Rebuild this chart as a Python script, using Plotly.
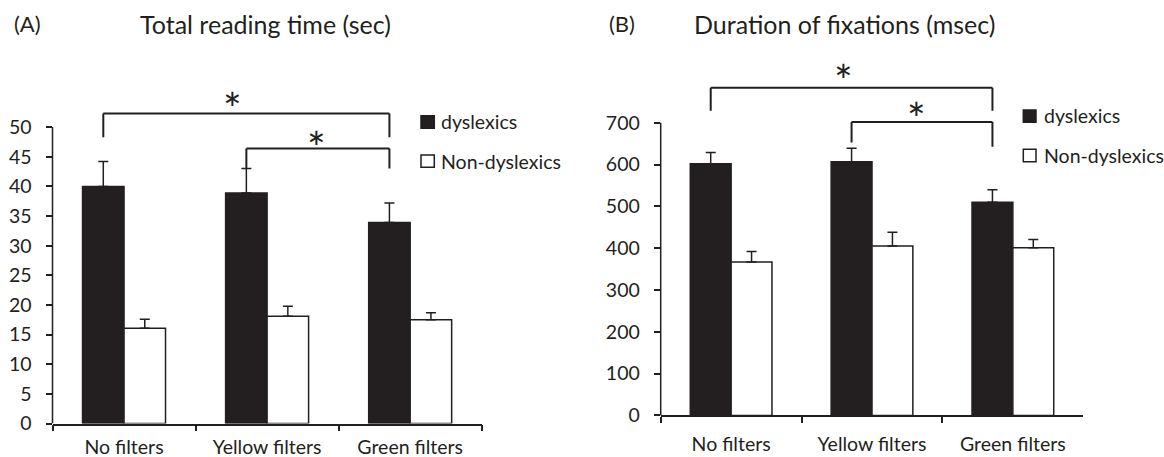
import plotly.graph_objects as go

# ---------------- data ----------------
categories = ["No filters", "Yellow filters", "Green filters"]
series_names = ["dyslexics", "Non-dyslexics"]

# Panel A: Total reading time (sec)
a_dys = [40.0, 38.9, 33.9]
a_dys_err = [4.2, 4.1, 3.3]
a_non = [16.1, 18.1, 17.5]
a_non_err = [1.5, 1.7, 1.2]
a_ticks = [0, 5, 10, 15, 20, 25, 30, 35, 40, 45, 50]

# Panel B: Duration of fixations (msec)
b_dys = [602, 607, 510]
b_dys_err = [27, 32, 30]
b_non = [367, 405, 401]
b_non_err = [25, 33, 20]
b_ticks = [0, 100, 200, 300, 400, 500, 600, 700]

# significance brackets: (from category, to category, bar height, left end, right end)
a_brackets = [(0, 2, 52.3, 48.3, 48.3), (1, 2, 46.4, 43.0, 43.0)]
b_brackets = [(0, 2, 784, 729, 729), (1, 2, 702, 653, 643)]
# asterisks: (x in category units, value)
a_stars = [(0.76, 55.5), (1.345, 48.9)]
b_stars = [(0.795, 836), (1.315, 743)]

# ---------------- style ----------------
W, H = 1164, 457
INK = "#231f20"
FONT = "Lato"
TXT = 19.5
BARGAP = 0.42
OFF = -(1 - BARGAP) / 4  # centre offset of the dyslexic bar
STAR = 44


def px(x):
    return x / W


def py(y):
    return 1 - y / H


fig = go.Figure()


def add_pair(dys, dys_err, non, non_err, xa, ya):
    fig.add_trace(go.Bar(
        x=categories, y=dys, name=series_names[0], xaxis=xa, yaxis=ya,
        marker=dict(color=INK, line=dict(color=INK, width=1.5)),
        error_y=dict(type="data", symmetric=False, array=dys_err,
                     arrayminus=[0] * len(dys), color=INK, thickness=1.5, width=5),
        showlegend=False,
    ))
    fig.add_trace(go.Bar(
        x=categories, y=non, name=series_names[1], xaxis=xa, yaxis=ya,
        marker=dict(color="white", line=dict(color=INK, width=1.5)),
        error_y=dict(type="data", symmetric=False, array=non_err,
                     arrayminus=[0] * len(non), color=INK, thickness=1.5, width=5),
        showlegend=False,
    ))


add_pair(a_dys, a_dys_err, a_non, a_non_err, "x", "y")
add_pair(b_dys, b_dys_err, b_non, b_non_err, "x2", "y2")

xcommon = dict(type="category", showline=True, linecolor=INK, linewidth=1.5,
               ticks="outside", tickson="boundaries", ticklen=6, tickwidth=1.5,
               tickcolor=INK, showgrid=False, zeroline=False, automargin=False,
               tickfont=dict(family=FONT, size=TXT, color=INK), fixedrange=True)
ycommon = dict(showline=False, ticks="outside", ticklen=6, tickwidth=1.5,
               tickcolor=INK, showgrid=False, zeroline=False, automargin=False,
               tickfont=dict(family=FONT, size=TXT, color=INK),
               ticklabelstandoff=10, fixedrange=True)

# pixel scale: A 5.93 px/unit from y=423.6, B 0.418 px/unit from y=415.4
A_TOP, B_TOP = 57, 860
fig.update_layout(
    width=W, height=H,
    margin=dict(l=0, r=0, t=0, b=0, autoexpand=False),
    paper_bgcolor="white", plot_bgcolor="white",
    barmode="group", bargap=BARGAP, bargroupgap=0,
    xaxis=dict(domain=[px(52.5), px(481.7)], anchor="y", ticklabelstandoff=5, **xcommon),
    yaxis=dict(domain=[py(423.6), py(423.6 - A_TOP * 5.93)], anchor="x",
               range=[0, A_TOP], tickvals=a_ticks, **ycommon),
    xaxis2=dict(domain=[px(660.7), px(1083.3)], anchor="y2", ticklabelstandoff=10, **xcommon),
    yaxis2=dict(domain=[py(415.4), py(415.4 - B_TOP * 0.418)], anchor="x2",
                range=[0, B_TOP], tickvals=b_ticks, **ycommon),
)

shapes = []
annotations = []

# y axis lines only up to the top tick
for xr, yr, ticks in (("x", "y", a_ticks), ("x2", "y2", b_ticks)):
    shapes.append(dict(type="line", xref=f"{xr} domain", yref=yr, x0=0, x1=0,
                       y0=ticks[0], y1=ticks[-1], line=dict(color=INK, width=1.5)))

# brackets
for xr, yr, brs in (("x", "y", a_brackets), ("x2", "y2", b_brackets)):
    for c0, c1, top, l_end, r_end in brs:
        x0, x1 = c0 + OFF, c1 + OFF
        ln = dict(color=INK, width=2)
        shapes.append(dict(type="line", xref=xr, yref=yr, x0=x0, x1=x1, y0=top, y1=top, line=ln))
        shapes.append(dict(type="line", xref=xr, yref=yr, x0=x0, x1=x0, y0=top, y1=l_end, line=ln))
        shapes.append(dict(type="line", xref=xr, yref=yr, x0=x1, x1=x1, y0=top, y1=r_end, line=ln))

# asterisks
for xr, yr, stars in (("x", "y", a_stars), ("x2", "y2", b_stars)):
    for sx, sy in stars:
        annotations.append(dict(x=sx, y=sy, xref=xr, yref=yr, text="*", showarrow=False,
                                xanchor="center", yanchor="middle", yshift=-0.31 * STAR,
                                font=dict(family=FONT, size=STAR, color=INK)))

# manual legends
for (sq_x0, sq_x1, txt_x, rows) in (
    (421, 434.3, 439.3, [(115.7, 128.3, 122), (155, 167.3, 161)]),
    (1023.3, 1036, 1041.7, [(110, 122.3, 116), (149.3, 161.7, 155.5)]),
):
    for k, (y0, y1, yc) in enumerate(rows):
        shapes.append(dict(type="rect", xref="paper", yref="paper",
                           x0=px(sq_x0), x1=px(sq_x1), y0=py(y1), y1=py(y0),
                           fillcolor=INK if k == 0 else "white",
                           line=dict(color=INK, width=1.5)))
        annotations.append(dict(x=px(txt_x), y=py(yc), xref="paper", yref="paper",
                                text=series_names[k], showarrow=False,
                                xanchor="left", yanchor="middle",
                                font=dict(family=FONT, size=TXT, color=INK)))

# panel titles
for lbl, lx, title, tx in (("(A)", 11.7, "Total reading time (sec)", 265),
                           ("(B)", 606.7, "Duration of fixations (msec)", 844)):
    annotations.append(dict(x=px(lx), y=py(24), xref="paper", yref="paper", text=lbl,
                            showarrow=False, xanchor="left", yanchor="middle",
                            font=dict(family=FONT, size=22, color=INK)))
    annotations.append(dict(x=px(tx), y=py(24), xref="paper", yref="paper", text=title,
                            showarrow=False, xanchor="center", yanchor="middle",
                            font=dict(family=FONT, size=25, color=INK)))

fig.update_layout(shapes=shapes, annotations=annotations)
fig.write_html("out.html")
